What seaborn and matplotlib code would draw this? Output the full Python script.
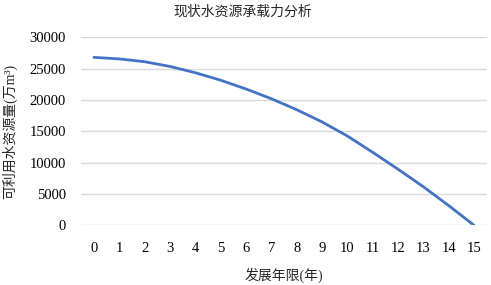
import pandas as pd
import seaborn as sns
import matplotlib.pyplot as plt

# Datos
years = list(range(16))
water = [26800, 26550, 26100, 25350, 24350, 23150, 21750, 20200,
         18450, 16500, 14250, 11650, 8950, 6150, 3150, 0]
yticks = [0, 5000, 10000, 15000, 20000, 25000, 30000]

df = pd.DataFrame({"year": years, "water": water})

sns.set_style("white")
plt.rcParams["font.family"] = ["Liberation Serif", "Noto Sans CJK SC"]

fig = plt.figure(figsize=(4.91, 2.85), dpi=100)
ax = fig.add_axes([81.3 / 491, 1 - 225.3 / 285, 405.4 / 491, 188 / 285])

sns.lineplot(data=df, x="year", y="water", ax=ax, color="#4472C4",
             linewidth=2.0, solid_joinstyle="round")

ax.set_xlim(-0.5, 15.5)
ax.set_ylim(0, 30000)
ax.set_xticks(years)
ax.set_yticks(yticks)
ax.yaxis.grid(True, color="#D9D9D9", linewidth=1.0)
ax.set_axisbelow(True)
for s in ax.spines.values():
    s.set_visible(False)
ax.tick_params(axis="both", length=0, labelsize=10.5, colors="black")
ax.tick_params(axis="x", pad=12)
ax.tick_params(axis="y", pad=11)

ax.set_xlabel("发展年限(年)", fontsize=10, labelpad=9)
ax.set_ylabel("可利用水资源量(万m³)", fontsize=10, labelpad=9)
fig.text(243 / 491, 1 - 12 / 285, "现状水资源承载力分析", ha="center", va="center", fontsize=10)

plt.savefig("out.png", dpi=100)
